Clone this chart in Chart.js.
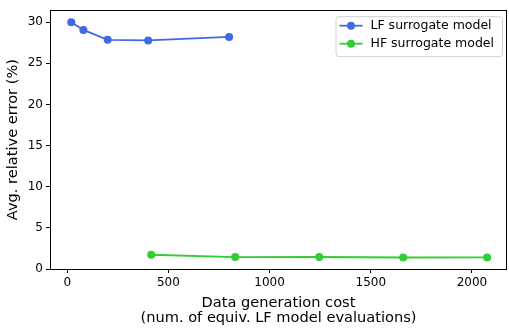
<!DOCTYPE html>
<html>
<head>
<meta charset="utf-8">
<script src="https://cdn.jsdelivr.net/npm/chart.js@4/dist/chart.umd.min.js"></script>
<style>
  html, body { margin: 0; padding: 0; background: #fff; }
  canvas { display: block; }
</style>
</head>
<body>
<canvas id="errChart" width="509" height="333"></canvas>
<script>
// cost (x) and average relative error (y) for each surrogate
const lfCost = [20, 80, 200, 400, 800];
const lfError = [30.0, 29.05, 27.85, 27.78, 28.2];
const hfCost = [415, 830, 1245, 1660, 2075];
const hfError = [1.73, 1.45, 1.46, 1.4, 1.41];
const xTicks = [0, 500, 1000, 1500, 2000];
const yTicks = [0, 5, 10, 15, 20, 25, 30];

const FONT = '"DejaVu Sans", sans-serif';

function toPoints(xs, ys) {
  return xs.map((x, i) => ({x: x, y: ys[i]}));
}

// box around the plot area, like matplotlib spines
const frame = {
  id: 'frame',
  afterDraw(chart) {
    const {ctx, chartArea: a} = chart;
    ctx.save();
    ctx.strokeStyle = '#000';
    ctx.lineWidth = 1;
    ctx.strokeRect(Math.round(a.left) + 0.5, Math.round(a.top) + 0.5,
      Math.round(a.right - a.left) - 1, Math.round(a.bottom - a.top));
    ctx.restore();
  }
};

// legend in the upper right corner, line + marker swatch
const boxLegend = {
  id: 'boxLegend',
  afterDraw(chart) {
    const {ctx, chartArea: a} = chart;
    const sets = chart.data.datasets;
    ctx.save();
    ctx.font = '12.5px ' + FONT;
    let tw = 0;
    sets.forEach(d => { tw = Math.max(tw, ctx.measureText(d.label).width); });
    const w = 35 + tw + 8, h = 40;
    const x0 = a.right - 5 - w, y0 = a.top + 6;
    ctx.beginPath();
    ctx.roundRect(x0 + 0.5, y0 + 0.5, w, h, 3);
    ctx.fillStyle = 'rgba(255,255,255,0.8)';
    ctx.fill();
    ctx.strokeStyle = '#d0d0d0';
    ctx.lineWidth = 1;
    ctx.stroke();
    sets.forEach((d, i) => {
      const cy = y0 + 9.5 + i * 18;
      ctx.strokeStyle = d.borderColor;
      ctx.lineWidth = 1.8;
      ctx.beginPath();
      ctx.moveTo(x0 + 4, cy);
      ctx.lineTo(x0 + 27, cy);
      ctx.stroke();
      ctx.fillStyle = d.borderColor;
      ctx.beginPath();
      ctx.arc(x0 + 15.5, cy, 4, 0, Math.PI * 2);
      ctx.fill();
      ctx.fillStyle = '#000';
      ctx.textBaseline = 'middle';
      ctx.fillText(d.label, x0 + 35, cy);
    });
    ctx.restore();
  }
};

new Chart(document.getElementById('errChart'), {
  type: 'scatter',
  data: {
    datasets: [
      {
        label: 'LF surrogate model',
        data: toPoints(lfCost, lfError),
        showLine: true,
        borderColor: '#4169E1',
        backgroundColor: '#4169E1',
        borderWidth: 1.8,
        pointRadius: 4,
        pointBorderWidth: 0
      },
      {
        label: 'HF surrogate model',
        data: toPoints(hfCost, hfError),
        showLine: true,
        borderColor: '#32CD32',
        backgroundColor: '#32CD32',
        borderWidth: 1.8,
        pointRadius: 4,
        pointBorderWidth: 0
      }
    ]
  },
  options: {
    responsive: false,
    animation: false,
    layout: { autoPadding: false, padding: {left: 0, right: 2, top: 3, bottom: 0} },
    plugins: { legend: { display: false }, tooltip: { enabled: false } },
    scales: {
      x: {
        type: 'linear',
        min: -85,
        max: 2173,
        afterBuildTicks: s => { s.ticks = xTicks.map(v => ({value: v})); },
        afterFit: s => { s.height = 64; },
        border: { display: false },
        grid: { drawOnChartArea: false, drawTicks: true, tickLength: 4, color: '#000' },
        ticks: { color: '#000', font: { family: FONT, size: 12 }, padding: 3, maxRotation: 0,
                 callback: v => String(v) },
        title: {
          display: true,
          text: ['Data generation cost', '(num. of equiv. LF model evaluations)'],
          color: '#000',
          font: { family: FONT, size: 14.6, lineHeight: 1.03 },
          padding: { top: 0, bottom: 7 }
        }
      },
      y: {
        min: 0,
        max: 31.45,
        afterBuildTicks: s => { s.ticks = yTicks.map(v => ({value: v})); },
        afterFit: s => { s.width = 50; },
        border: { display: false },
        grid: { drawOnChartArea: false, drawTicks: true, tickLength: 4, color: '#000' },
        ticks: { color: '#000', font: { family: FONT, size: 12 }, padding: 3,
                 callback: v => String(v) },
        title: {
          display: true,
          text: 'Avg. relative error (%)',
          color: '#000',
          font: { family: FONT, size: 14.6, lineHeight: 1.2 },
          padding: { top: 4, bottom: 0 }
        }
      }
    }
  },
  plugins: [frame, boxLegend]
});
</script>
</body>
</html>
